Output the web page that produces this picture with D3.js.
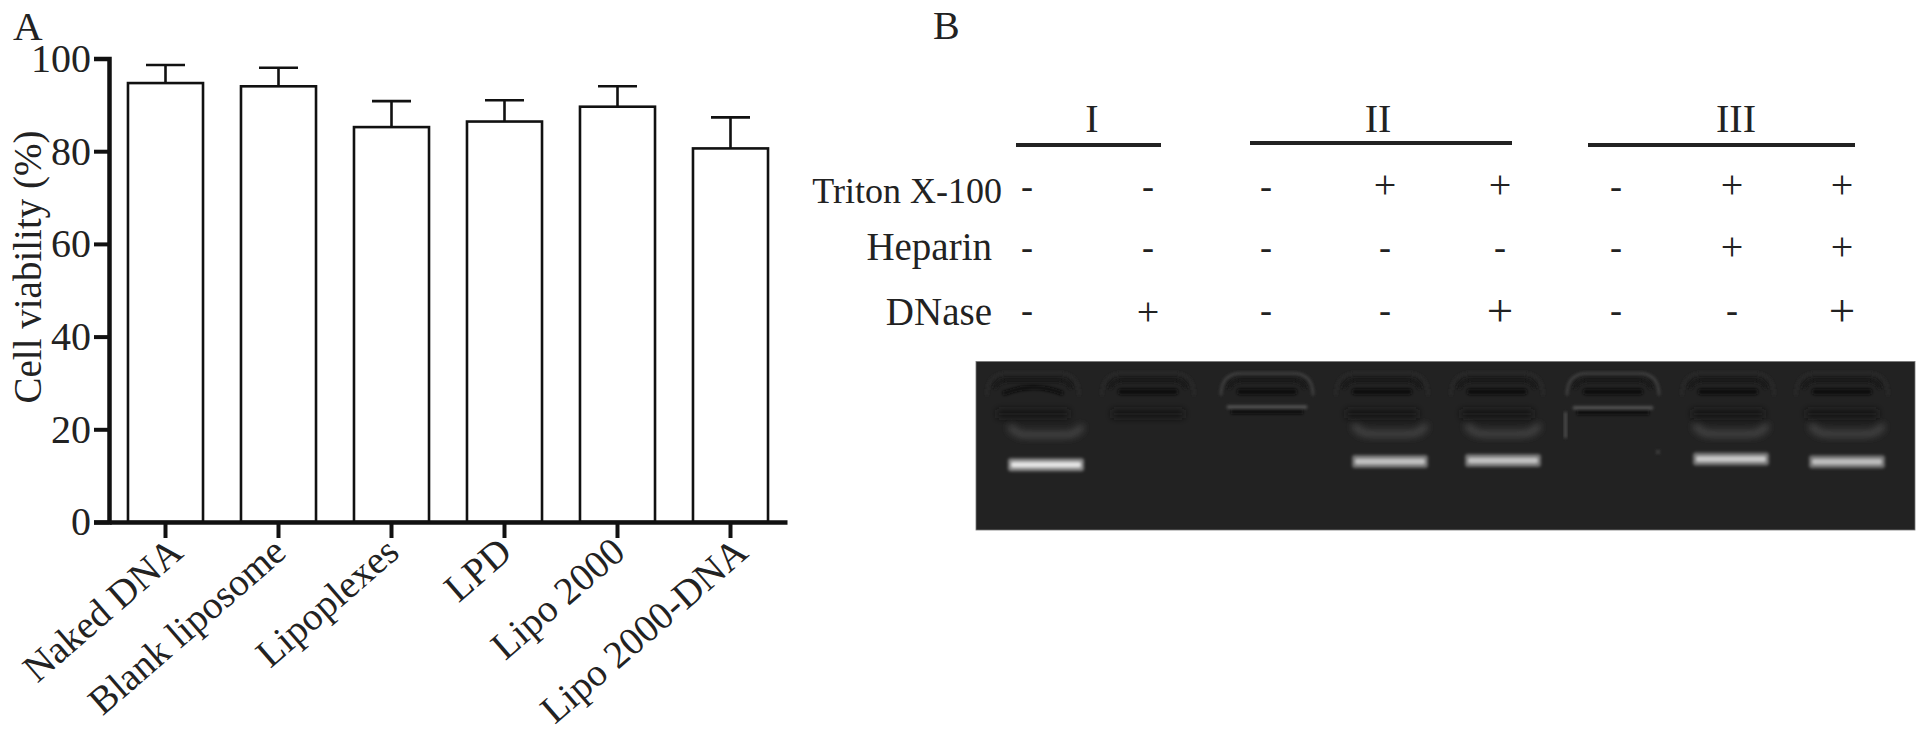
<!DOCTYPE html>
<html>
<head>
<meta charset="utf-8">
<script src="https://d3js.org/d3.v7.min.js"></script>
<style>
  html, body { margin: 0; background: #fff; }
  svg { display: block; }
  text { font-family: "Liberation Serif", serif; fill: #222; }
</style>
</head>
<body>
<script>
// panel A
const samples = ['Naked DNA', 'Blank liposome', 'Lipoplexes', 'LPD', 'Lipo 2000', 'Lipo 2000-DNA'];
const viability = [94.7, 94, 85.2, 86.4, 89.6, 80.6];
const viabilityTop = [98.6, 98, 90.8, 91, 94, 87.3];
const yTicks = [0, 20, 40, 60, 80, 100];

// panel B
const groups = ['I', 'II', 'III'];
const treatments = ['Triton X-100', 'Heparin', 'DNase'];
const signs = [
  ['-', '-', '-', '+', '+', '-', '+', '+'],
  ['-', '-', '-', '-', '-', '-', '+', '+'],
  ['-', '+', '-', '-', '+', '-', '-', '+']
];
// gel: migration in % of the gel height, brightness 0-1
const freeLanes = [0, 3, 4, 6, 7];
const freePos = [61.3, 59.3, 58.8, 57.9, 59.5];
const freeLevel = [0.88, 0.72, 0.72, 0.74, 0.7];
const smearPos = [42, 41.5, 41.5, 41.5, 41.5];
const boundLanes = [2, 5];
const boundPos = [27, 27.5];

const svg = d3.select('body').append('svg').attr('width', 1928).attr('height', 732);

// ---- A ----
const x = d3.scaleBand().domain(samples).range([109, 787]).paddingInner(0.336).paddingOuter(0.168);
const y = d3.scaleLinear().domain([0, 100]).range([522, 58.5]);

svg.append('text').text('A').attr('x', 13).attr('y', 40).attr('font-size', 41);

const bars = svg.append('g').selectAll('g').data(samples).join('g');
bars.append('path')
  .attr('d', (d, i) => {
    const c = x(d) + x.bandwidth() / 2;
    return 'M' + c + ',' + y(viability[i]) + 'V' + y(viabilityTop[i]) + 'M' + (c - 19.5) + ',' + y(viabilityTop[i]) + 'h39';
  })
  .attr('fill', 'none').attr('stroke', '#111').attr('stroke-width', 2.6);
bars.append('rect')
  .attr('x', d => x(d))
  .attr('y', (d, i) => y(viability[i]))
  .attr('width', x.bandwidth())
  .attr('height', (d, i) => y(0) - y(viability[i]))
  .attr('fill', '#fff').attr('stroke', '#111').attr('stroke-width', 2.6);

const yAxis = svg.append('g').attr('transform', 'translate(109,0)')
  .call(d3.axisLeft(y).tickValues(yTicks).tickSize(15).tickPadding(3));
yAxis.select('.domain').attr('stroke', '#111').attr('stroke-width', 4.5);
yAxis.selectAll('line').attr('stroke', '#111').attr('stroke-width', 4);
yAxis.selectAll('text').attr('font-size', 40).attr('font-family', '"Liberation Serif", serif').attr('fill', '#222');

const xAxis = svg.append('g').attr('transform', 'translate(0,522)')
  .call(d3.axisBottom(x).tickSize(16).tickSizeOuter(0));
xAxis.select('.domain').attr('stroke', '#111').attr('stroke-width', 4.5);
xAxis.selectAll('line').attr('stroke', '#111').attr('stroke-width', 4);
// the outer two labels sit a little further right in the figure
const labelNudge = [10, 0, 0, 0, 0, 10];
xAxis.selectAll('text')
  .attr('font-size', 39).attr('font-family', '"Liberation Serif", serif').attr('fill', '#222')
  .attr('text-anchor', 'end')
  .attr('transform', (d, i) => 'translate(' + (-21 + labelNudge[i]) + ',-2) rotate(-41)')
  .attr('dy', '0.71em');

svg.append('text').text('Cell viability (%)')
  .attr('transform', 'translate(41,267) rotate(-90)')
  .attr('text-anchor', 'middle').attr('font-size', 39);

// ---- B ----
svg.append('text').text('B').attr('x', 933).attr('y', 39).attr('font-size', 40);

const laneX = d3.scaleOrdinal().domain(d3.range(8))
  .range([1027, 1148, 1266, 1385, 1500, 1616, 1732, 1842]);

const groupLine = [[1016, 1161, 145], [1250, 1512, 143], [1588, 1855, 145]];
const groupLabelX = [1092, 1378, 1736];
groups.forEach((g, i) => {
  svg.append('line')
    .attr('x1', groupLine[i][0]).attr('x2', groupLine[i][1])
    .attr('y1', groupLine[i][2]).attr('y2', groupLine[i][2])
    .attr('stroke', '#222').attr('stroke-width', 4);
  svg.append('text').text(g)
    .attr('x', groupLabelX[i])
    .attr('y', 132).attr('text-anchor', 'middle').attr('font-size', 40);
});

const labelY = [203, 260, 325];
const plusY = [198, 260, 325];
const minusY = [198, 259, 322];
treatments.forEach((t, r) => {
  svg.append('text').text(t)
    .attr('x', r == 0 ? 1002 : 992)
    .attr('y', labelY[r])
    .attr('text-anchor', 'end')
    .attr('font-size', r == 0 ? 36 : 39);
  signs[r].forEach((s, l) => {
    const big = r == 2 && (l == 4 || l == 7);
    svg.append('text').text(s)
      .attr('x', laneX(l))
      .attr('y', s == '+' ? plusY[r] + (big ? 1 : 0) : minusY[r])
      .attr('text-anchor', 'middle')
      .attr('font-size', s == '+' ? (big ? 47 : 40) : 36);
  });
});

// gel picture
const defs = svg.append('defs');
[['soft', 1.8], ['softer', 3.5]].forEach(f => {
  defs.append('filter').attr('id', f[0]).attr('x', '-30%').attr('y', '-120%').attr('width', '160%').attr('height', '340%')
    .append('feGaussianBlur').attr('stdDeviation', f[1]);
});

const gel = { x: 976, y: 361.5, w: 939, h: 168.5 };
svg.append('rect').attr('x', gel.x).attr('y', gel.y).attr('width', gel.w).attr('height', gel.h)
  .attr('fill', '#222').attr('stroke', '#777').attr('stroke-width', 0.8);
const gelY = d3.scaleLinear().domain([0, 100]).range([gel.y, gel.y + gel.h]);
const wellX = [1033, 1148, 1267, 1382, 1497, 1613, 1728, 1842];
const bandX = [1046, 1148, 1267, 1390, 1503, 1613, 1731, 1847];
const grey = d3.scaleLinear().domain([0, 1]).range(['#222', '#fff']);
const g = svg.append('g');

// wells, the arcs round them and the dark bands
wellX.forEach((c, l) => {
  const bound = boundLanes.includes(l);
  const ring = `M${c - 46},${gelY(20)} Q${c - 46},${gelY(7)} ${c - 26},${gelY(7)} H${c + 26} Q${c + 46},${gelY(7)} ${c + 46},${gelY(20)}`;
  g.append('path').attr('d', ring).attr('fill', 'none')
    .attr('stroke', bound ? '#464646' : '#2c2c2c').attr('stroke-width', bound ? 2.2 : 2).attr('filter', 'url(#soft)');
  g.append('path').attr('d', `M${c - 38},${gelY(16)} Q${c - 36},${gelY(11)} ${c - 24},${gelY(11)} H${c + 24} Q${c + 36},${gelY(11)} ${c + 38},${gelY(16)}`)
    .attr('fill', 'none').attr('stroke', '#181818').attr('stroke-width', 4).attr('filter', 'url(#soft)');
  if (l == 0) {
    g.append('path').attr('d', `M${c - 30},${gelY(19)} Q${c},${gelY(12)} ${c + 30},${gelY(19)}`)
      .attr('fill', 'none').attr('stroke', '#0e0e0e').attr('stroke-width', 4).attr('filter', 'url(#soft)');
  } else {
    g.append('rect').attr('x', c - 30).attr('y', gelY(18) - 3).attr('width', 60).attr('height', 6)
      .attr('rx', 3).attr('fill', '#0e0e0e').attr('filter', 'url(#soft)');
  }
  if (!bound) {
    g.append('rect').attr('x', c - 36).attr('y', gelY(31) - 4).attr('width', 72).attr('height', 8)
      .attr('fill', '#191919').attr('filter', 'url(#softer)');
  }
});

// faint smear over the free band
freeLanes.forEach((l, i) => {
  const c = bandX[l];
  g.append('path')
    .attr('d', `M${c - 36},${gelY(smearPos[i] - 4)} Q${c - 32},${gelY(smearPos[i] + 2)} ${c - 14},${gelY(smearPos[i] + 1.5)} H${c + 14} Q${c + 32},${gelY(smearPos[i] + 2)} ${c + 36},${gelY(smearPos[i] - 4)}`)
    .attr('fill', 'none').attr('stroke', '#4a4a4a').attr('stroke-width', 6).attr('filter', 'url(#softer)');
});

// bound band at the well, lanes without Triton
boundLanes.forEach((l, i) => {
  const c = wellX[l];
  g.append('rect').attr('x', c - 36).attr('y', gelY(boundPos[i]) + 2).attr('width', 72).attr('height', 5)
    .attr('fill', '#101010').attr('filter', 'url(#soft)');
  g.append('rect').attr('x', c - 40).attr('y', gelY(boundPos[i]) - 1.5).attr('width', 80).attr('height', 3)
    .attr('fill', '#5c5c5c').attr('filter', 'url(#soft)');
});

// stray marks in lane 6
g.append('rect').attr('x', 1564).attr('y', 412).attr('width', 3).attr('height', 26).attr('fill', '#4d4d4d').attr('filter', 'url(#soft)');
g.append('circle').attr('cx', 1658).attr('cy', 452).attr('r', 2).attr('fill', '#444').attr('filter', 'url(#soft)');

// free DNA band
freeLanes.forEach((l, i) => {
  const c = bandX[l];
  g.append('rect').attr('x', c - 38).attr('y', gelY(freePos[i]) - 6.5).attr('width', 76).attr('height', 13)
    .attr('rx', 3).attr('fill', grey(freeLevel[i] * 0.5)).attr('filter', 'url(#soft)');
  g.append('rect').attr('x', c - 35).attr('y', gelY(freePos[i]) - 3).attr('width', 70).attr('height', 6)
    .attr('rx', 2).attr('fill', grey(freeLevel[i])).attr('filter', 'url(#soft)');
});
</script>
</body>
</html>
